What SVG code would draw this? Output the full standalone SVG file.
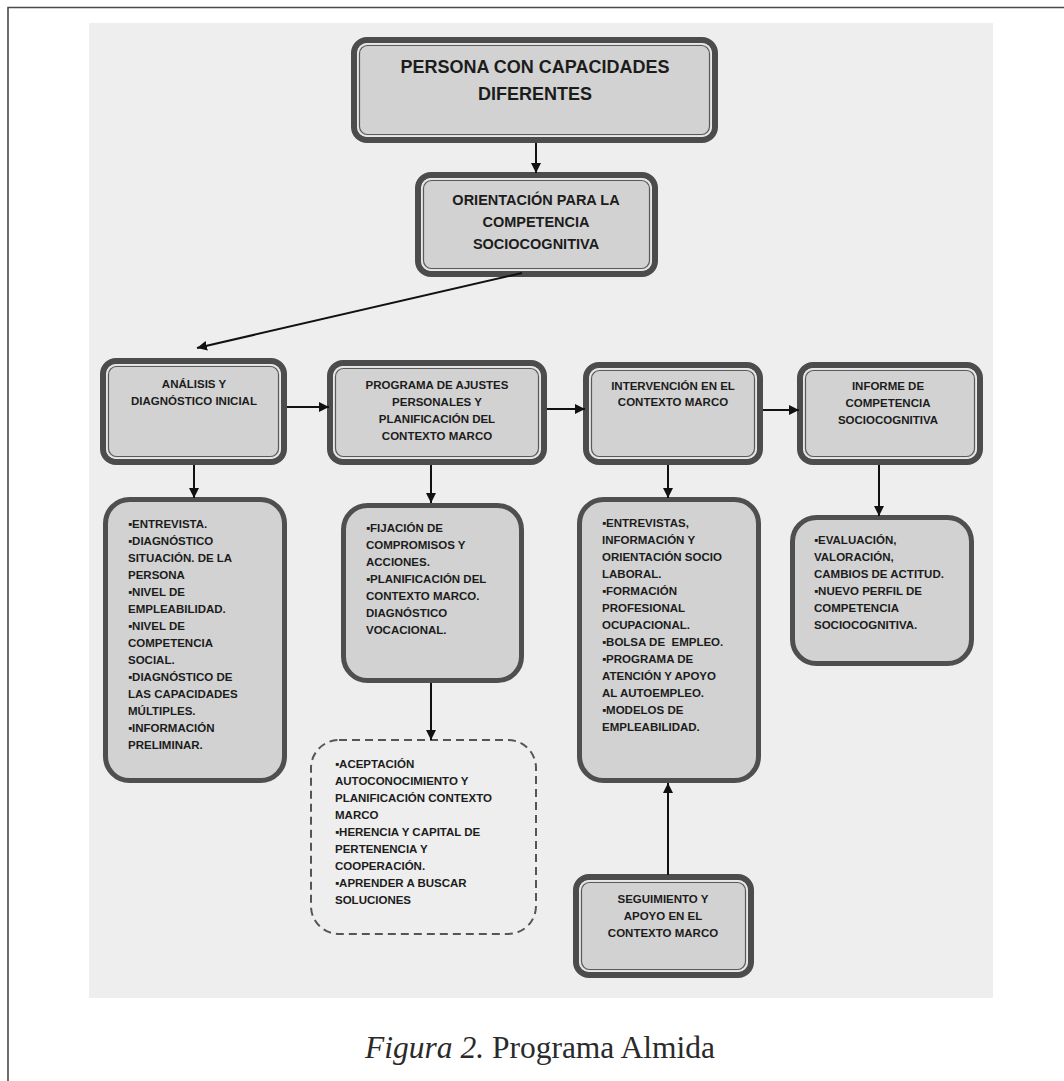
<svg xmlns="http://www.w3.org/2000/svg" width="1064" height="1081" viewBox="0 0 1064 1081">
<defs>
<marker id="ah" markerUnits="userSpaceOnUse" markerWidth="11" markerHeight="11" refX="10" refY="5" orient="auto">
<path d="M0,0 L10,5 L0,10 z" fill="#111"/>
</marker>
<style>
.frame{stroke:#4a4a4a;stroke-width:1.6;fill:none}
.ob{fill:none;stroke:#4c4c4c;stroke-width:6}
.lb{fill:#d2d2d2;stroke:#e6e6e6;stroke-width:1.6}
.ib{fill:#d2d2d2;stroke:#5a5a5a;stroke-width:1.2}
.sb{fill:#d1d2d1;stroke:#4f4f4f;stroke-width:5}
.db{fill:none;stroke:#555;stroke-width:2;stroke-dasharray:8 5}
.t{font-family:"Liberation Sans",Arial,sans-serif;font-weight:bold;fill:#1c1c1c}
.c{text-anchor:middle}
.s{font-size:11.5px}
.conn line{stroke:#111;stroke-width:2;marker-end:url(#ah)}
</style>
</defs>
<rect x="0" y="0" width="1064" height="1081" fill="#ffffff"/>
<path class="frame" d="M8,1081 L8,7.5 L1064,7.5"/>
<rect x="89" y="23" width="904" height="975" fill="#edeeed"/>

<g id="n-persona">
<rect class="ob" x="354" y="40" width="361" height="100" rx="13"/>
<rect class="lb" x="358" y="44" width="353" height="92" rx="9"/>
<rect class="ib" x="359.5" y="45.5" width="350" height="89" rx="8"/>
<text class="t c" x="535" y="73" font-size="18">PERSONA CON CAPACIDADES</text>
<text class="t c" x="535" y="100" font-size="18">DIFERENTES</text>
</g>

<g id="n-orientacion">
<rect class="ob" x="418" y="175" width="237" height="99" rx="13"/>
<rect class="lb" x="422" y="179" width="229" height="91" rx="9"/>
<rect class="ib" x="423.5" y="180.5" width="226" height="88" rx="8"/>
<text class="t c" x="536" y="205" font-size="14.5">ORIENTACIÓN PARA LA</text>
<text class="t c" x="536" y="227" font-size="14.5">COMPETENCIA</text>
<text class="t c" x="536" y="249" font-size="14.5">SOCIOCOGNITIVA</text>
</g>

<g id="n-analisis">
<rect class="ob" x="103" y="361" width="181" height="101" rx="13"/>
<rect class="lb" x="107" y="365" width="173" height="93" rx="9"/>
<rect class="ib" x="108.5" y="366.5" width="170" height="90" rx="8"/>
<text class="t c s" x="194" y="388">ANÁLISIS Y</text>
<text class="t c s" x="194" y="405">DIAGNÓSTICO INICIAL</text>
</g>

<g id="n-programa">
<rect class="ob" x="330" y="363" width="214" height="99" rx="13"/>
<rect class="lb" x="334" y="367" width="206" height="91" rx="9"/>
<rect class="ib" x="335.5" y="368.5" width="203" height="88" rx="8"/>
<text class="t c s" x="437" y="389">PROGRAMA DE AJUSTES</text>
<text class="t c s" x="437" y="406">PERSONALES Y</text>
<text class="t c s" x="437" y="423">PLANIFICACIÓN DEL</text>
<text class="t c s" x="437" y="440">CONTEXTO MARCO</text>
</g>

<g id="n-intervencion">
<rect class="ob" x="586" y="365" width="174" height="97" rx="13"/>
<rect class="lb" x="590" y="369" width="166" height="89" rx="9"/>
<rect class="ib" x="591.5" y="370.5" width="163" height="86" rx="8"/>
<text class="t c s" x="673" y="390">INTERVENCIÓN EN EL</text>
<text class="t c s" x="673" y="406">CONTEXTO MARCO</text>
</g>

<g id="n-informe">
<rect class="ob" x="800" y="365" width="180" height="97" rx="13"/>
<rect class="lb" x="804" y="369" width="172" height="89" rx="9"/>
<rect class="ib" x="805.5" y="370.5" width="169" height="86" rx="8"/>
<text class="t c s" x="888" y="390">INFORME DE</text>
<text class="t c s" x="888" y="407">COMPETENCIA</text>
<text class="t c s" x="888" y="424">SOCIOCOGNITIVA</text>
</g>

<g id="n-analisis-det">
<rect class="sb" x="105.5" y="499.5" width="179" height="281" rx="24"/>
<text class="t s" x="128" y="528">▪ENTREVISTA.</text>
<text class="t s" x="128" y="545">▪DIAGNÓSTICO</text>
<text class="t s" x="128" y="562">SITUACIÓN. DE LA</text>
<text class="t s" x="128" y="579">PERSONA</text>
<text class="t s" x="128" y="596">▪NIVEL DE</text>
<text class="t s" x="128" y="613">EMPLEABILIDAD.</text>
<text class="t s" x="128" y="630">▪NIVEL DE</text>
<text class="t s" x="128" y="647">COMPETENCIA</text>
<text class="t s" x="128" y="664">SOCIAL.</text>
<text class="t s" x="128" y="681">▪DIAGNÓSTICO DE</text>
<text class="t s" x="128" y="698">LAS CAPACIDADES</text>
<text class="t s" x="128" y="715">MÚLTIPLES.</text>
<text class="t s" x="128" y="732">▪INFORMACIÓN</text>
<text class="t s" x="128" y="749">PRELIMINAR.</text>
</g>

<g id="n-programa-det">
<rect class="sb" x="343.5" y="505.5" width="178" height="175" rx="24"/>
<text class="t s" x="366" y="532">▪FIJACIÓN DE</text>
<text class="t s" x="366" y="549">COMPROMISOS Y</text>
<text class="t s" x="366" y="566">ACCIONES.</text>
<text class="t s" x="366" y="583">▪PLANIFICACIÓN DEL</text>
<text class="t s" x="366" y="600">CONTEXTO MARCO.</text>
<text class="t s" x="366" y="617">DIAGNÓSTICO</text>
<text class="t s" x="366" y="634">VOCACIONAL.</text>
</g>

<g id="n-aceptacion">
<rect class="db" x="311" y="740" width="225" height="194" rx="28"/>
<text class="t s" x="335" y="768">▪ACEPTACIÓN</text>
<text class="t s" x="335" y="785">AUTOCONOCIMIENTO Y</text>
<text class="t s" x="335" y="802">PLANIFICACIÓN CONTEXTO</text>
<text class="t s" x="335" y="819">MARCO</text>
<text class="t s" x="335" y="836">▪HERENCIA Y CAPITAL DE</text>
<text class="t s" x="335" y="853">PERTENENCIA Y</text>
<text class="t s" x="335" y="870">COOPERACIÓN.</text>
<text class="t s" x="335" y="887">▪APRENDER A BUSCAR</text>
<text class="t s" x="335" y="904">SOLUCIONES</text>
</g>

<g id="n-intervencion-det">
<rect class="sb" x="579.5" y="499.5" width="179" height="281" rx="24"/>
<text class="t s" x="602" y="527">▪ENTREVISTAS,</text>
<text class="t s" x="602" y="544">INFORMACIÓN Y</text>
<text class="t s" x="602" y="561">ORIENTACIÓN SOCIO</text>
<text class="t s" x="602" y="578">LABORAL.</text>
<text class="t s" x="602" y="595">▪FORMACIÓN</text>
<text class="t s" x="602" y="612">PROFESIONAL</text>
<text class="t s" x="602" y="629">OCUPACIONAL.</text>
<text class="t s" x="602" y="646" xml:space="preserve">▪BOLSA DE  EMPLEO.</text>
<text class="t s" x="602" y="663">▪PROGRAMA DE</text>
<text class="t s" x="602" y="680">ATENCIÓN Y APOYO</text>
<text class="t s" x="602" y="697">AL AUTOEMPLEO.</text>
<text class="t s" x="602" y="714">▪MODELOS DE</text>
<text class="t s" x="602" y="731">EMPLEABILIDAD.</text>
</g>

<g id="n-informe-det">
<rect class="sb" x="792.5" y="517.5" width="179" height="146" rx="24"/>
<text class="t s" x="814" y="544">▪EVALUACIÓN,</text>
<text class="t s" x="814" y="561">VALORACIÓN,</text>
<text class="t s" x="814" y="578">CAMBIOS DE ACTITUD.</text>
<text class="t s" x="814" y="595">▪NUEVO PERFIL DE</text>
<text class="t s" x="814" y="612">COMPETENCIA</text>
<text class="t s" x="814" y="629">SOCIOCOGNITIVA.</text>
</g>

<g id="n-seguimiento">
<rect class="ob" x="576" y="877" width="175" height="98" rx="13"/>
<rect class="lb" x="580" y="881" width="167" height="90" rx="9"/>
<rect class="ib" x="581.5" y="882.5" width="164" height="87" rx="8"/>
<text class="t c s" x="663" y="903">SEGUIMIENTO Y</text>
<text class="t c s" x="663" y="920">APOYO EN EL</text>
<text class="t c s" x="663" y="937">CONTEXTO MARCO</text>
</g>

<g id="connectors" class="conn">
<line x1="536" y1="143" x2="536" y2="173"/>
<line x1="522" y1="273" x2="197" y2="348"/>
<line x1="287" y1="407" x2="329" y2="407"/>
<line x1="547" y1="409" x2="585" y2="409"/>
<line x1="763" y1="410" x2="799" y2="410"/>
<line x1="194" y1="465" x2="194" y2="498"/>
<line x1="431" y1="465" x2="431" y2="503"/>
<line x1="668" y1="465" x2="668" y2="498"/>
<line x1="879" y1="465" x2="879" y2="516"/>
<line x1="431" y1="683" x2="431" y2="740"/>
<line x1="668" y1="875" x2="668" y2="783"/>
</g>

<text x="540" y="1058" text-anchor="middle" font-family="Liberation Serif,'Times New Roman',serif" font-size="31.5" fill="#2a2a2a"><tspan font-style="italic">Figura 2.</tspan> Programa Almida</text>
</svg>
